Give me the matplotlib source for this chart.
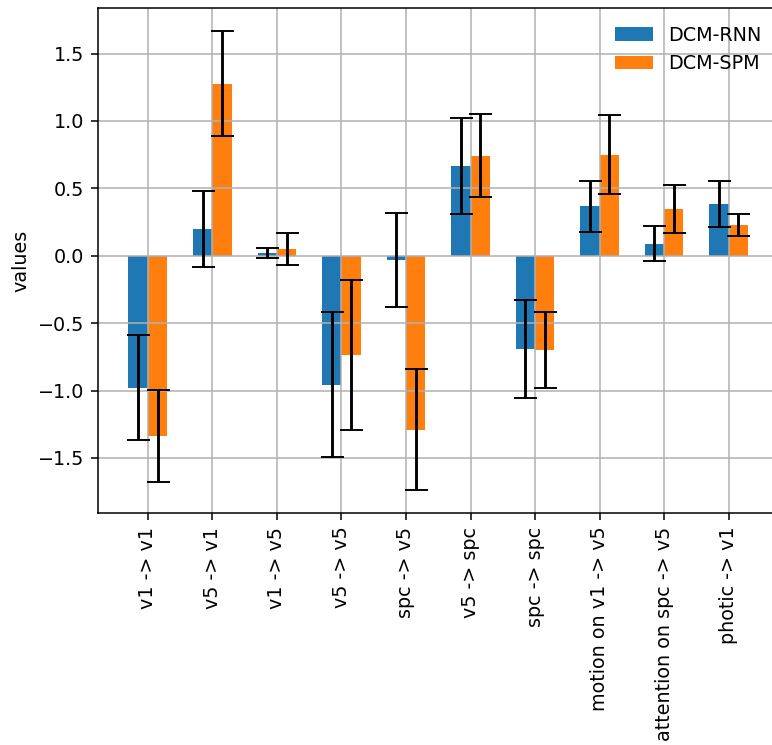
import numpy as np
import matplotlib
matplotlib.use("Agg")
import matplotlib.pyplot as plt

connections = ["v1 -> v1", "v5 -> v1", "v1 -> v5", "v5 -> v5", "spc -> v5",
               "v5 -> spc", "spc -> spc", "motion on v1 -> v5",
               "attention on spc -> v5", "photic -> v1"]

rnn_values = [-0.98, 0.20, 0.02, -0.955, -0.03, 0.663, -0.69, 0.368, 0.09, 0.383]
rnn_errors = [0.39, 0.28, 0.04, 0.54, 0.35, 0.355, 0.365, 0.19, 0.128, 0.17]

spm_values = [-1.335, 1.275, 0.05, -0.735, -1.29, 0.742, -0.697, 0.75, 0.345, 0.228]
spm_errors = [0.34, 0.39, 0.12, 0.555, 0.45, 0.31, 0.283, 0.295, 0.176, 0.08]

series_names = ["DCM-RNN", "DCM-SPM"]

dpi = 138
fig = plt.figure(figsize=(772 / dpi, 745 / dpi), dpi=dpi)
ax = fig.add_axes([97.5 / 772, 1 - 513.3 / 745, 681.5 / 772, (513.3 - 8.3) / 745])

x = np.arange(len(connections))
width = 0.3
ax.bar(x - width / 2, rnn_values, width, yerr=rnn_errors, capsize=6,
       color="#1f77b4", label=series_names[0])
ax.bar(x + width / 2, spm_values, width, yerr=spm_errors, capsize=6,
       color="#ff7f0e", label=series_names[1])

ax.set_xticks(x)
ax.set_xticklabels(connections, rotation=90)
ax.set_ylabel("values")
ax.grid(True)
ax.legend(loc="upper right", frameon=False)

fig.savefig("out.png", dpi=dpi)
